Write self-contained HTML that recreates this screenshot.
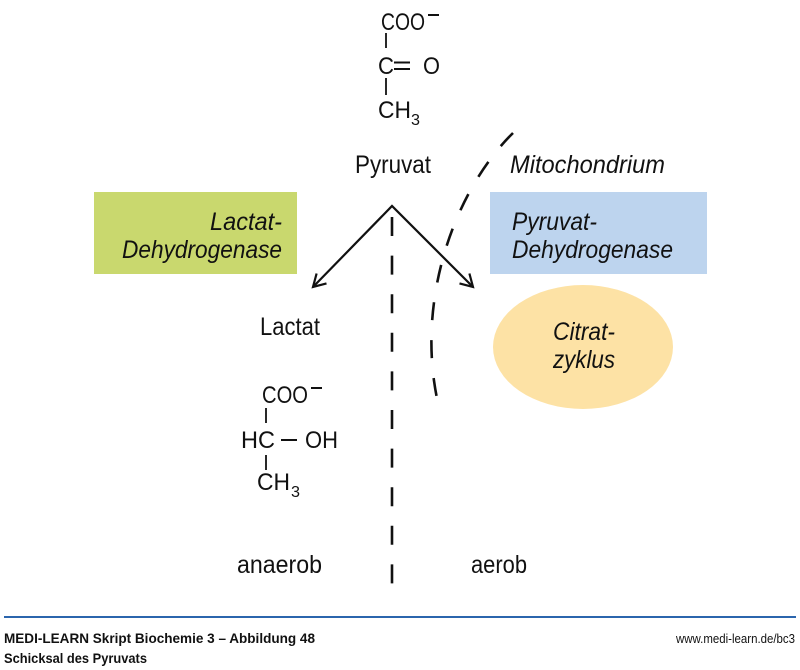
<!DOCTYPE html>
<html>
<head>
<meta charset="utf-8">
<style>
  html,body{margin:0;padding:0;background:#fff;}
  svg{display:block;}
  text{font-family:"Liberation Sans", Arial, sans-serif;fill:#111;}
  .it{font-style:italic;}
</style>
</head>
<body>
<svg width="800" height="670" viewBox="0 0 800 670" xmlns="http://www.w3.org/2000/svg">
  <rect width="800" height="670" fill="#fff"/>

  <!-- Pyruvate formula -->
  <text x="381" y="30" font-size="24" textLength="44" lengthAdjust="spacingAndGlyphs">COO</text>
  <line x1="428" y1="15" x2="439" y2="15" stroke="#111" stroke-width="2"/>
  <line x1="386" y1="33" x2="386" y2="48" stroke="#111" stroke-width="1.8"/>
  <text x="378" y="74" font-size="24" textLength="16" lengthAdjust="spacingAndGlyphs">C</text>
  <line x1="394" y1="62.5" x2="410" y2="62.5" stroke="#111" stroke-width="2"/>
  <line x1="394" y1="69" x2="410" y2="69" stroke="#111" stroke-width="2"/>
  <text x="423" y="74" font-size="24" textLength="17" lengthAdjust="spacingAndGlyphs">O</text>
  <line x1="386" y1="78" x2="386" y2="95" stroke="#111" stroke-width="1.8"/>
  <text x="378" y="118" font-size="24" textLength="33" lengthAdjust="spacingAndGlyphs">CH</text>
  <text x="411" y="125" font-size="16" textLength="9" lengthAdjust="spacingAndGlyphs">3</text>

  <text x="355" y="173" font-size="25" textLength="76" lengthAdjust="spacingAndGlyphs">Pyruvat</text>
  <text class="it" x="510" y="173" font-size="25" textLength="155" lengthAdjust="spacingAndGlyphs">Mitochondrium</text>

  <!-- Boxes -->
  <rect x="94" y="192" width="203" height="82" fill="#c9d86e"/>
  <text class="it" x="210" y="230" font-size="25" textLength="72" lengthAdjust="spacingAndGlyphs">Lactat-</text>
  <text class="it" x="122" y="258" font-size="25" textLength="160" lengthAdjust="spacingAndGlyphs">Dehydrogenase</text>

  <rect x="490" y="192" width="217" height="82" fill="#bdd4ee"/>
  <text class="it" x="512" y="230" font-size="25" textLength="85" lengthAdjust="spacingAndGlyphs">Pyruvat-</text>
  <text class="it" x="512" y="258" font-size="25" textLength="161" lengthAdjust="spacingAndGlyphs">Dehydrogenase</text>

  <ellipse cx="583" cy="347" rx="90" ry="62" fill="#fde2a5"/>
  <text class="it" x="553" y="340" font-size="25" textLength="62" lengthAdjust="spacingAndGlyphs">Citrat-</text>
  <text class="it" x="553" y="368" font-size="25" textLength="62" lengthAdjust="spacingAndGlyphs">zyklus</text>

  <!-- Arrows -->
  <polyline points="313,287 392,206 473,287" fill="none" stroke="#111" stroke-width="2.2" stroke-linejoin="miter"/>
  <polyline points="316.6,273.5 313,287 326.5,283.4" fill="none" stroke="#111" stroke-width="2.2"/>
  <polyline points="459.5,283.4 473,287 469.4,273.5" fill="none" stroke="#111" stroke-width="2.2"/>

  <!-- Dashed lines -->
  <line x1="392" y1="217" x2="392" y2="584" stroke="#111" stroke-width="2.6" stroke-dasharray="19 19.6"/>
  <path d="M513,133 C455,190 415,300 438,403" fill="none" stroke="#111" stroke-width="2.6" stroke-dasharray="18 20"/>

  <!-- Lactat -->
  <text x="260" y="335" font-size="25" textLength="60" lengthAdjust="spacingAndGlyphs">Lactat</text>

  <!-- Lactate formula -->
  <text x="262" y="403" font-size="24" textLength="46" lengthAdjust="spacingAndGlyphs">COO</text>
  <line x1="311" y1="388" x2="322" y2="388" stroke="#111" stroke-width="2"/>
  <line x1="266" y1="408" x2="266" y2="423" stroke="#111" stroke-width="1.8"/>
  <text x="241" y="448" font-size="24" textLength="34" lengthAdjust="spacingAndGlyphs">HC</text>
  <line x1="281" y1="440" x2="297" y2="440" stroke="#111" stroke-width="2"/>
  <text x="305" y="448" font-size="24" textLength="33" lengthAdjust="spacingAndGlyphs">OH</text>
  <line x1="266" y1="455" x2="266" y2="470" stroke="#111" stroke-width="1.8"/>
  <text x="257" y="490" font-size="24" textLength="33" lengthAdjust="spacingAndGlyphs">CH</text>
  <text x="291" y="497" font-size="16" textLength="9" lengthAdjust="spacingAndGlyphs">3</text>

  <!-- anaerob / aerob -->
  <text x="237" y="573" font-size="25" textLength="85" lengthAdjust="spacingAndGlyphs">anaerob</text>
  <text x="471" y="573" font-size="25" textLength="56" lengthAdjust="spacingAndGlyphs">aerob</text>

  <!-- Footer -->
  <line x1="4" y1="617" x2="796" y2="617" stroke="#2b65ad" stroke-width="2"/>
  <text x="4" y="643" font-size="14" font-weight="bold" textLength="311" lengthAdjust="spacingAndGlyphs">MEDI-LEARN Skript Biochemie 3 – Abbildung 48</text>
  <text x="4" y="663" font-size="14" font-weight="bold" textLength="143" lengthAdjust="spacingAndGlyphs">Schicksal des Pyruvats</text>
  <text x="676" y="643" font-size="12.5" textLength="119" lengthAdjust="spacingAndGlyphs">www.medi-learn.de/bc3</text>
</svg>
</body>
</html>
